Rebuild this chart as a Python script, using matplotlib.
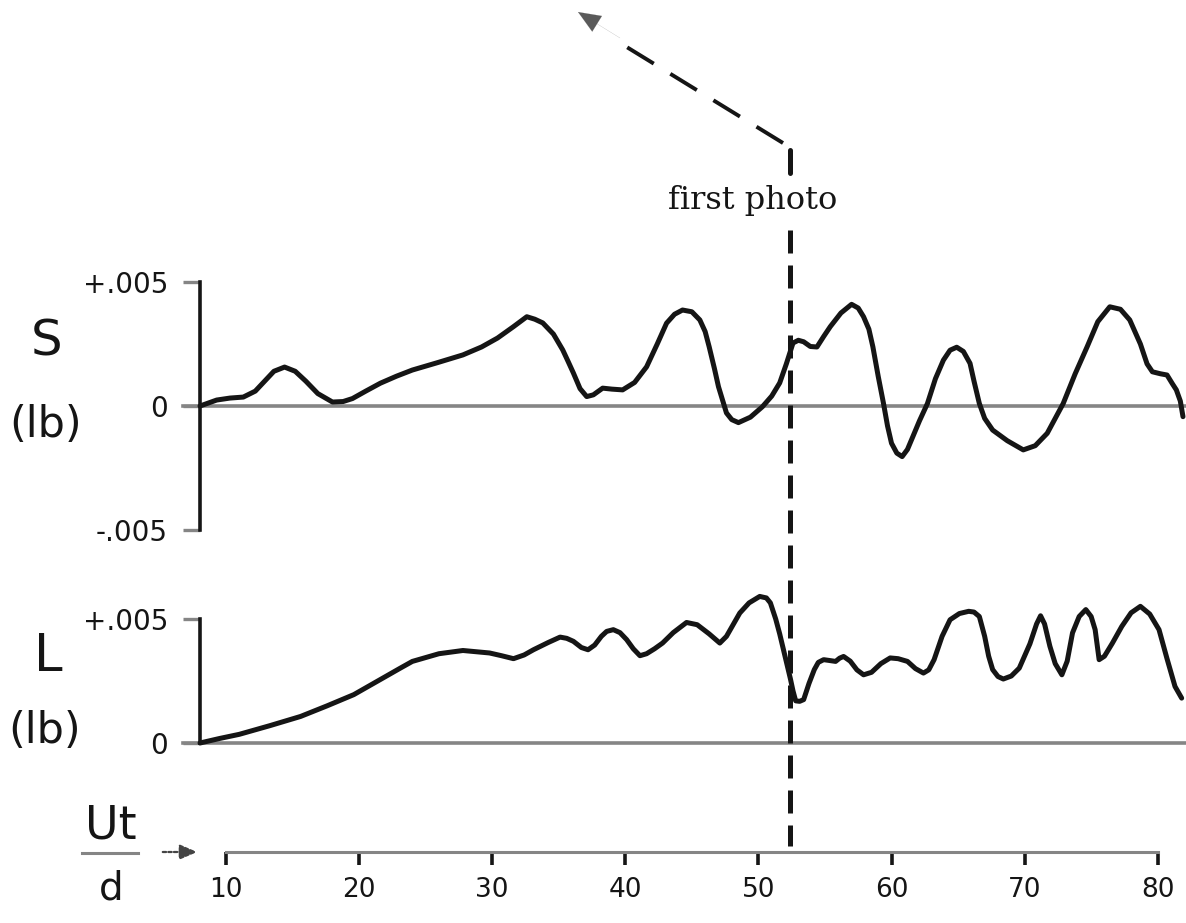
import matplotlib
matplotlib.use("Agg")
import matplotlib.pyplot as plt
from matplotlib.lines import Line2D
from matplotlib.patches import FancyArrowPatch

# ---- data (Ut/d, force in thousandths of a lb) ----
s_u = [8.05, 9.3, 10.3, 11.3, 12.2, 12.9, 13.6, 14.4, 15.2, 16.0, 16.9, 18.0,
       18.8, 19.5, 20.5, 21.6, 22.8, 24.0, 25.9, 27.8, 29.2, 30.4, 31.6, 32.6,
       33.2, 33.8, 34.6, 35.3, 35.7, 36.1, 36.6, 37.1, 37.6, 38.3, 39.0, 39.8,
       40.7, 41.6, 42.4, 43.1, 43.7, 44.3, 45.0, 45.6, 46.0, 46.3, 46.7, 47.0,
       47.6, 48.0, 48.5, 49.4, 50.3, 51.0, 51.6, 52.1, 52.6, 53.0, 53.4, 53.9,
       54.4, 54.9, 55.4, 56.2, 57.0, 57.5, 57.9, 58.3, 58.6, 59.0, 59.4, 59.7,
       60.0, 60.4, 60.8, 61.2, 61.6, 62.1, 62.7, 63.3, 63.9, 64.4, 64.9, 65.4,
       65.9, 66.2, 66.6, 67.0, 67.6, 68.7, 69.9, 70.8, 71.7, 72.3, 72.9, 73.8,
       74.7, 75.5, 76.4, 77.2, 77.9, 78.7, 79.2, 79.6, 80.2, 80.7, 81.1, 81.4,
       81.7, 81.9]
s_mlb = [0.0, 0.24, 0.32, 0.36, 0.6, 1.0, 1.4, 1.57, 1.4, 1.0, 0.5, 0.16,
         0.18, 0.3, 0.6, 0.92, 1.2, 1.45, 1.75, 2.06, 2.38, 2.74, 3.2, 3.6,
         3.5, 3.35, 2.9, 2.26, 1.8, 1.33, 0.7, 0.38, 0.45, 0.72, 0.68, 0.65,
         0.95, 1.58, 2.5, 3.34, 3.7, 3.87, 3.8, 3.47, 3.0, 2.39, 1.5, 0.78,
         -0.28, -0.55, -0.67, -0.45, -0.03, 0.4, 0.93, 1.7, 2.54, 2.65, 2.59,
         2.4, 2.38, 2.8, 3.2, 3.75, 4.1, 3.95, 3.6, 3.1, 2.39, 1.2, 0.1, -0.8,
         -1.5, -1.9, -2.04, -1.75, -1.24, -0.6, 0.1, 1.1, 1.85, 2.25, 2.37, 2.2,
         1.72, 1.0, 0.1, -0.5, -0.97, -1.4, -1.77, -1.6, -1.1, -0.5, 0.1, 1.3,
         2.39, 3.4, 4.0, 3.9, 3.47, 2.5, 1.7, 1.38, 1.3, 1.25, 0.9, 0.65,
         0.2, -0.43]

l_u = [8.05, 9.5, 11.0, 13.3, 15.6, 17.6, 19.6, 21.4, 23.1, 24.0, 26.0, 27.8,
       29.8, 30.7, 31.6, 32.4, 33.1, 34.2, 35.1, 35.6, 36.1, 36.7, 37.2, 37.7,
       38.2, 38.6, 39.1, 39.6, 40.1, 40.6, 41.1, 41.6, 42.2, 42.8, 43.6, 44.6,
       45.4, 46.3, 47.1, 47.6, 48.6, 49.3, 50.1, 50.6, 50.9, 51.3, 51.6, 52.0,
       52.4, 52.6, 52.8, 53.1, 53.4, 53.8, 54.2, 54.5, 54.9, 55.3, 55.8, 56.1,
       56.4, 56.9, 57.4, 57.9, 58.5, 59.2, 59.9, 60.5, 61.2, 61.8, 62.4, 62.8,
       63.2, 63.8, 64.4, 65.1, 65.8, 66.2, 66.6, 67.0, 67.3, 67.6, 68.0, 68.4,
       69.0, 69.6, 70.4, 70.9, 71.2, 71.5, 71.9, 72.3, 72.8, 73.2, 73.6, 74.1,
       74.6, 75.0, 75.3, 75.6, 76.0, 76.6, 77.3, 78.0, 78.7, 79.4, 80.1, 80.7,
       81.3, 81.8]
l_mlb = [0.0, 0.18, 0.35, 0.7, 1.07, 1.5, 1.95, 2.5, 3.02, 3.29, 3.6, 3.73,
         3.63, 3.52, 3.4, 3.55, 3.76, 4.05, 4.27, 4.22, 4.1, 3.85, 3.76, 3.95,
         4.3, 4.5, 4.57, 4.45, 4.17, 3.8, 3.52, 3.6, 3.8, 4.03, 4.45, 4.86,
         4.77, 4.4, 4.03, 4.3, 5.24, 5.65, 5.91, 5.85, 5.65, 5.0, 4.4, 3.5,
         2.6, 2.1, 1.7, 1.68, 1.75, 2.4, 2.96, 3.25, 3.36, 3.33, 3.29, 3.42,
         3.49, 3.3, 2.95, 2.75, 2.85, 3.2, 3.43, 3.4, 3.29, 3.0, 2.82, 2.95,
         3.36, 4.3, 4.97, 5.22, 5.31, 5.28, 5.1, 4.3, 3.5, 2.96, 2.68, 2.58,
         2.7, 3.02, 4.0, 4.8, 5.13, 4.8, 3.9, 3.2, 2.75, 3.3, 4.44, 5.1,
         5.38, 5.1, 4.57, 3.36, 3.5, 4.03, 4.7, 5.25, 5.51, 5.2, 4.57, 3.4,
         2.28, 1.81]

x_ticks = [10, 20, 30, 40, 50, 60, 70, 80]
s_ticks = [-5, 0, 5]
s_tick_labels = ["-.005", "0", "+.005"]
l_ticks = [0, 5]
l_tick_labels = ["0", "+.005"]
photo_u = 52.4
axis_u = 8.05

# ---- layout (pixels of the 1186x923 picture) ----
W, H = 1186, 923
PX0, PX_PER_U = 226, 13.31       # u=10 at x=226 px
PX_PER_MLB = 24.8
u_lim = (10 - PX0 / PX_PER_U, 10 + (W - PX0) / PX_PER_U)
INK = "#151515"
GREY = "#858585"
HAND = "DejaVu Sans"

fig = plt.figure(figsize=(W / 100, H / 100), dpi=100)


def fpx(x, y):
    return x / W, 1 - y / H


def panel(top, bottom, zero, ticks, labels):
    ax = fig.add_axes([0, 1 - bottom / H, 1, (bottom - top) / H])
    ax.set_xlim(*u_lim)
    ax.set_ylim((zero - bottom) / PX_PER_MLB, (zero - top) / PX_PER_MLB)
    ax.patch.set_alpha(0)
    for side in ["top", "right", "bottom"]:
        ax.spines[side].set_visible(False)
    ax.spines["left"].set_position(("data", axis_u))
    ax.spines["left"].set_bounds(min(ticks), max(ticks))
    ax.spines["left"].set_linewidth(2.6)
    ax.spines["left"].set_color(INK)
    ax.set_xticks([])
    ax.set_yticks(ticks)
    ax.set_yticklabels(labels, family=HAND, fontsize=20, color=INK)
    ax.tick_params(axis="y", direction="out", length=12, width=2.4,
                   color=GREY, pad=11)
    ax.axhline(0, xmin=183 / W, xmax=1, color=GREY, lw=2.6, zorder=1)
    return ax


ax_s = panel(250, 560, 406, s_ticks, s_tick_labels)
ax_s.plot(s_u, s_mlb, color=INK, lw=3.6, solid_capstyle="round",
          solid_joinstyle="round", zorder=3)

ax_l = panel(580, 785, 743, l_ticks, l_tick_labels)
ax_l.plot(l_u, l_mlb, color=INK, lw=3.6, solid_capstyle="round",
          solid_joinstyle="round", zorder=3)

# Ut/d ruler
ax_x = fig.add_axes([0, 1 - 852 / H, 1, 0.01])
ax_x.set_xlim(*u_lim)
ax_x.patch.set_alpha(0)
for side in ["top", "right", "left"]:
    ax_x.spines[side].set_visible(False)
ax_x.spines["bottom"].set_bounds(min(x_ticks), max(x_ticks))
ax_x.spines["bottom"].set_color(GREY)
ax_x.spines["bottom"].set_linewidth(2.2)
ax_x.set_yticks([])
ax_x.set_xticks(x_ticks)
ax_x.set_xticklabels([str(t) for t in x_ticks], family=HAND, fontsize=19,
                     color=INK)
ax_x.tick_params(axis="x", direction="out", length=9, width=2.6, color=INK,
                 pad=9)

# overlay for the "first photo" marker
ax_o = fig.add_axes([0, 0, 1, 1])
ax_o.set_xlim(*u_lim)
ax_o.set_ylim(H, 0)
ax_o.axis("off")
ax_o.plot([photo_u, photo_u], [230, 846], color=INK, lw=3.6,
          ls=(0, (4.6, 2.4)), zorder=5)
ax_o.plot([photo_u, photo_u], [150, 173], color=INK, lw=3.6,
          solid_capstyle="round", zorder=5)
ax_o.text(photo_u - 2.8, 209, "first photo", ha="center", va="baseline",
          family="DejaVu Serif", fontsize=23, color=INK)

x0, y0 = fpx(783, 143)
x1, y1 = fpx(612, 38)
fig.add_artist(Line2D([x0, x1], [y0, y1], transform=fig.transFigure,
                      color=INK, lw=2.8, ls=(0, (8, 5))))
fig.add_artist(FancyArrowPatch(
    fpx(620, 38), fpx(578, 12), transform=fig.transFigure,
    arrowstyle="-|>,head_length=0.8,head_width=0.33", mutation_scale=20,
    shrinkA=0, shrinkB=0, color="#5a5a5a", lw=0.1))

# hand-lettered labels
fig.text(*fpx(47, 342), "S", ha="center", va="center", family=HAND,
         fontsize=36, color=INK)
fig.text(*fpx(46, 425), "(lb)", ha="center", va="center", family=HAND,
         fontsize=31, color=INK)
fig.text(*fpx(48, 657), "L", ha="center", va="center", family=HAND,
         fontsize=37, color=INK)
fig.text(*fpx(45, 731), "(lb)", ha="center", va="center", family=HAND,
         fontsize=31, color=INK)
fig.text(*fpx(111, 826), "Ut", ha="center", va="center", family=HAND,
         fontsize=33, color=INK)
fig.text(*fpx(111, 888), "d", ha="center", va="center", family=HAND,
         fontsize=28, color=INK)
ux0, uy = fpx(82, 853)
ux1, _ = fpx(138, 853)
fig.add_artist(Line2D([ux0, ux1], [uy, uy], transform=fig.transFigure,
                      color=GREY, lw=2.2))
fig.add_artist(FancyArrowPatch(
    fpx(160, 852), fpx(200, 852), transform=fig.transFigure,
    arrowstyle="-|>,head_length=0.7,head_width=0.3", mutation_scale=15,
    color="#444444", lw=1.6, ls=(0, (1.5, 1))))

fig.savefig("out.png", dpi=100, facecolor="white")
